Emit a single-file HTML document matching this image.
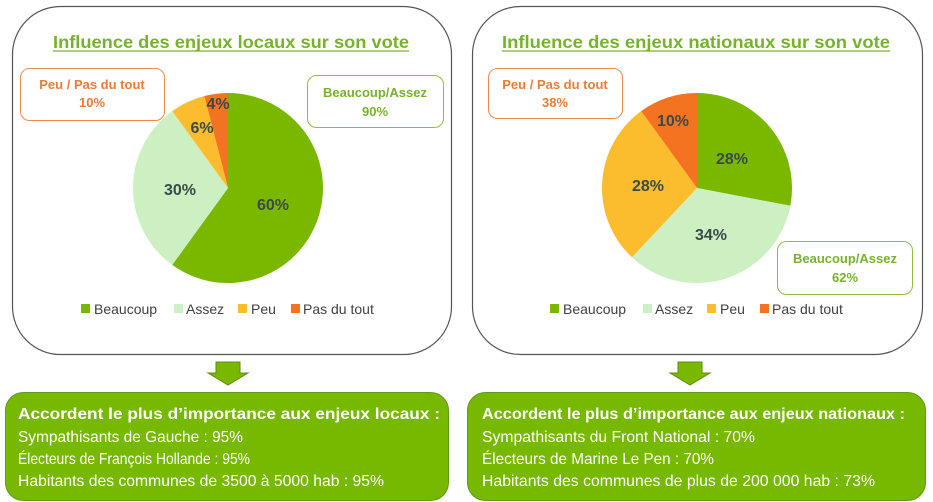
<!DOCTYPE html>
<html><head><meta charset="utf-8"><style>
body{margin:0;background:#fff;}
svg{display:block;font-family:"Liberation Sans",sans-serif;}
</style></head><body>
<svg width="933" height="502" viewBox="0 0 933 502">
<rect x="12.5" y="6.5" width="439" height="348" rx="48" fill="#fff" stroke="#555" stroke-width="1.2"/>
<rect x="472.5" y="6.5" width="450" height="348" rx="48" fill="#fff" stroke="#555" stroke-width="1.2"/>
<text x="231" y="48" text-anchor="middle" font-size="17.5" font-weight="bold" fill="#77b32a" textLength="356" lengthAdjust="spacingAndGlyphs">Influence des enjeux locaux sur son vote</text>
<line x1="53" y1="51" x2="409" y2="51" stroke="#77b32a" stroke-width="1.3"/>
<text x="696" y="48" text-anchor="middle" font-size="17.5" font-weight="bold" fill="#77b32a" textLength="388" lengthAdjust="spacingAndGlyphs">Influence des enjeux nationaux sur son vote</text>
<line x1="502" y1="51" x2="890" y2="51" stroke="#77b32a" stroke-width="1.3"/>
<path d="M228,188 L228,93 A95,95 0 1 1 172.2,264.9 Z" fill="#7ab800"/>
<path d="M228,188 L172.2,264.9 A95,95 0 0 1 172.2,111.1 Z" fill="#cdf0c2"/>
<path d="M228,188 L172.2,111.1 A95,95 0 0 1 204.4,96 Z" fill="#fbbd2e"/>
<path d="M228,188 L204.4,96 A95,95 0 0 1 228,93 Z" fill="#f47320"/>
<g font-size="16" font-weight="bold" fill="#3a4a4a" text-anchor="middle">
<text x="273" y="210">60%</text><text x="180" y="195">30%</text><text x="202" y="133">6%</text><text x="218" y="109">4%</text>
</g>
<path d="M697,188 L697,93 A95,95 0 0 1 790.3,205.8 Z" fill="#7ab800"/>
<path d="M697,188 L790.3,205.8 A95,95 0 0 1 632,257.3 Z" fill="#cdf0c2"/>
<path d="M697,188 L632,257.3 A95,95 0 0 1 641.2,111.1 Z" fill="#fbbd2e"/>
<path d="M697,188 L641.2,111.1 A95,95 0 0 1 697,93 Z" fill="#f47320"/>
<g font-size="16" font-weight="bold" fill="#3a4a4a" text-anchor="middle">
<text x="732" y="164">28%</text><text x="711" y="240">34%</text><text x="648" y="191">28%</text><text x="673" y="126">10%</text>
</g>
<rect x="20.5" y="68.5" width="144" height="52" rx="9" fill="#fff" stroke="#f08a4b"/>
<text x="92" y="89" text-anchor="middle" font-size="13" font-weight="bold" fill="#ef7a32">Peu / Pas du tout</text>
<text x="92" y="107" text-anchor="middle" font-size="13" font-weight="bold" fill="#ef7a32">10%</text>
<rect x="307.5" y="75.5" width="136" height="52" rx="9" fill="#fff" stroke="#8fbf3a"/>
<text x="375" y="97" text-anchor="middle" font-size="13" font-weight="bold" fill="#77b32a">Beaucoup/Assez</text>
<text x="375" y="116" text-anchor="middle" font-size="13" font-weight="bold" fill="#77b32a">90%</text>
<rect x="488.5" y="68.5" width="134" height="50" rx="9" fill="#fff" stroke="#f08a4b"/>
<text x="555" y="89" text-anchor="middle" font-size="13" font-weight="bold" fill="#ef7a32">Peu / Pas du tout</text>
<text x="555" y="107" text-anchor="middle" font-size="13" font-weight="bold" fill="#ef7a32">38%</text>
<rect x="777.5" y="241.5" width="135" height="53" rx="9" fill="#fff" stroke="#8fbf3a"/>
<text x="845" y="263" text-anchor="middle" font-size="13" font-weight="bold" fill="#77b32a">Beaucoup/Assez</text>
<text x="845" y="282" text-anchor="middle" font-size="13" font-weight="bold" fill="#77b32a">62%</text>
<g font-size="14" fill="#404040">
<rect x="81" y="304" width="9" height="9" fill="#7ab800"/><text x="94" y="314">Beaucoup</text>
<rect x="174" y="304" width="9" height="9" fill="#cdf0c2"/><text x="186" y="314">Assez</text>
<rect x="238" y="304" width="9" height="9" fill="#fbbd2e"/><text x="251" y="314">Peu</text>
<rect x="291" y="304" width="9" height="9" fill="#f47320"/><text x="303" y="314">Pas du tout</text>
<rect x="550" y="304" width="9" height="9" fill="#7ab800"/><text x="563" y="314">Beaucoup</text>
<rect x="643" y="304" width="9" height="9" fill="#cdf0c2"/><text x="655" y="314">Assez</text>
<rect x="707" y="304" width="9" height="9" fill="#fbbd2e"/><text x="720" y="314">Peu</text>
<rect x="760" y="304" width="9" height="9" fill="#f47320"/><text x="772" y="314">Pas du tout</text>
</g>
<path d="M216,362 H240 V373 H248 L228,385 L208,373 H216 Z" fill="#7ab800" stroke="#5d8f10"/>
<path d="M678,362 H702 V373 H710 L690,385 L670,373 H678 Z" fill="#7ab800" stroke="#5d8f10"/>
<rect x="5.5" y="392.5" width="443" height="108" rx="18" fill="#76b900" stroke="#5e9a12"/>
<rect x="467.5" y="392.5" width="458" height="108" rx="18" fill="#76b900" stroke="#5e9a12"/>
<g fill="#fff" font-size="16">
<text x="18" y="419" font-weight="bold" textLength="422" lengthAdjust="spacingAndGlyphs">Accordent le plus d’importance aux enjeux locaux :</text>
<text x="18" y="442" textLength="225" lengthAdjust="spacingAndGlyphs">Sympathisants de Gauche : 95%</text>
<text x="18" y="464" textLength="232" lengthAdjust="spacingAndGlyphs">Électeurs  de François Hollande : 95%</text>
<text x="18" y="486" textLength="366" lengthAdjust="spacingAndGlyphs">Habitants des communes de 3500 à 5000 hab : 95%</text>
<text x="482" y="419" font-weight="bold" textLength="423" lengthAdjust="spacingAndGlyphs">Accordent le plus d’importance aux enjeux nationaux :</text>
<text x="482" y="442" textLength="273" lengthAdjust="spacingAndGlyphs">Sympathisants du Front National : 70%</text>
<text x="482" y="464" textLength="232" lengthAdjust="spacingAndGlyphs">Électeurs  de Marine Le Pen : 70%</text>
<text x="482" y="486" textLength="393" lengthAdjust="spacingAndGlyphs">Habitants des communes de plus de 200 000 hab : 73%</text>
</g>
</svg>
</body></html>
